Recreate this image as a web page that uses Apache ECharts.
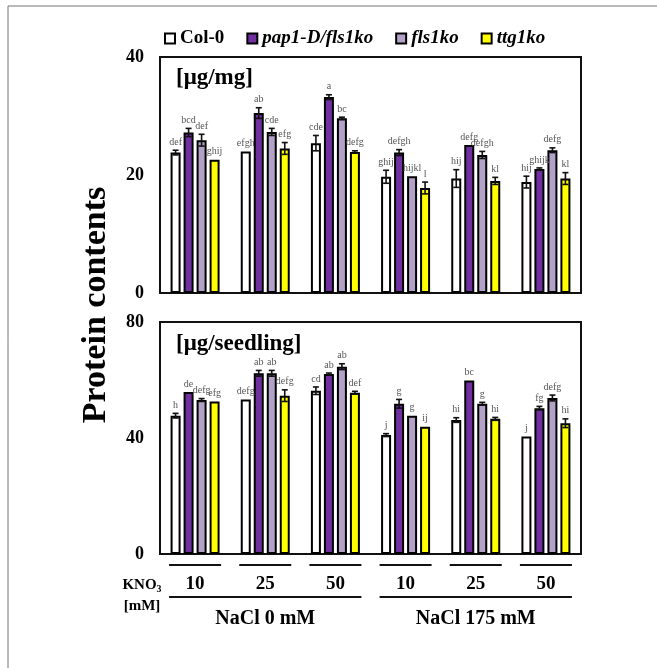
<!DOCTYPE html>
<html>
<head>
<meta charset="utf-8">
<script src="https://cdn.jsdelivr.net/npm/echarts@6/dist/echarts.min.js"></script>
<style>
  html, body { margin: 0; padding: 0; background: #fff; }
  #main { width: 657px; height: 668px; }
</style>
</head>
<body>
<div id="main"></div>
<script>
// KNO3 levels (two NaCl blocks)
var kno3 = ['10', '25', '50', '10', '25', '50'];
var cats = ['a10', 'a25', 'a50', 'b10', 'b25', 'b50'];
var nacl = ['NaCl 0 mM', 'NaCl 175 mM'];
var names = ['Col-0', 'pap1-D/fls1ko', 'fls1ko', 'ttg1ko'];
var colors = ['#ffffff', '#7030a0', '#b3a2c7', '#ffff00'];

// [μg/mg]
var col0T = [23.8, 24.0, 25.4, 19.7, 19.4, 18.8];
var papT  = [27.2, 30.5, 33.2, 23.8, 25.1, 21.0];
var flsT  = [25.9, 27.3, 29.6, 19.8, 23.4, 24.2];
var ttgT  = [22.6, 24.5, 23.9, 17.8, 19.0, 19.4];
var col0TE = [0.4, 0, 1.3, 1.1, 1.5, 1.0];
var papTE  = [0.7, 0.9, 0.4, 0.5, 0, 0.2];
var flsTE  = [1.0, 0.6, 0.2, 0, 0.6, 0.4];
var ttgTE  = [0, 1.0, 0.2, 1.0, 0.6, 1.0];
var col0TL = ['def', 'efgh', 'cde', 'ghij', 'hij', 'hij'];
var papTL  = ['bcd', 'ab', 'a', 'defgh', 'defg', 'ghijk'];
var flsTL  = ['def', 'cde', 'bc', 'hijkl', 'defgh', 'defg'];
var ttgTL  = ['ghij', 'efg', 'defg', 'l', 'kl', 'kl'];

// [μg/seedling]
var col0B = [47.7, 53.3, 56.3, 41.0, 46.2, 40.5];
var papB  = [55.9, 62.3, 62.1, 51.8, 59.8, 50.3];
var flsB  = [53.1, 62.3, 64.6, 47.7, 51.8, 53.8];
var ttgB  = [52.6, 54.6, 55.6, 43.9, 46.6, 45.1];
var col0BE = [0.8, 0, 1.3, 0.5, 0.8, 0];
var papBE  = [0, 1.0, 0.3, 1.5, 0, 0.6];
var flsBE  = [0.5, 1.0, 1.0, 0, 0.5, 1.0];
var ttgBE  = [0, 2.0, 0.5, 0, 0.5, 1.5];
var col0BL = ['h', 'defg', 'cd', 'j', 'hi', 'j'];
var papBL  = ['de', 'ab', 'ab', 'g', 'bc', 'fg'];
var flsBL  = ['defg', 'ab', 'ab', 'g', 'g', 'defg'];
var ttgBL  = ['efg', 'defg', 'def', 'ij', 'hi', 'hi'];

var FONT = '"Liberation Serif", "Times New Roman", serif';
var BAR_W = 10;
var PITCH = 13;

var topVals = [col0T, papT, flsT, ttgT];
var topErrs = [col0TE, papTE, flsTE, ttgTE];
var topLets = [col0TL, papTL, flsTL, ttgTL];
var botVals = [col0B, papB, flsB, ttgB];
var botErrs = [col0BE, papBE, flsBE, ttgBE];
var botLets = [col0BL, papBL, flsBL, ttgBL];

var myChart = echarts.init(document.getElementById('main'));

function errRender(params, api) {
    var cat = api.value(0), v = api.value(1), e = api.value(2), s = api.value(3);
    var letter = api.value(4);
    var dx = (s - 1.5) * PITCH;
    var p = api.coord([cat, v + e]);
    var q = api.coord([cat, v - e]);
    var x = p[0] + dx;
    var kids = [];
    if (e > 0) {
        var st = {stroke: '#111', lineWidth: 1.6};
        kids.push({type: 'line', shape: {x1: x, y1: p[1], x2: x, y2: q[1]}, style: st});
        kids.push({type: 'line', shape: {x1: x - 3, y1: p[1], x2: x + 3, y2: p[1]}, style: st});
        kids.push({type: 'line', shape: {x1: x - 3, y1: q[1], x2: x + 3, y2: q[1]}, style: st});
    }
    kids.push({
        type: 'text',
        style: {
            x: x, y: p[1] - 3, text: letter, fill: '#555',
            font: '10px ' + FONT, align: 'center', verticalAlign: 'bottom'
        }
    });
    return {type: 'group', children: kids};
}

var series = [];
function addGrid(idx, vals, errs, lets) {
    var errData = [];
    for (var s = 0; s < 4; s++) {
        series.push({
            name: names[s],
            type: 'bar',
            xAxisIndex: idx,
            yAxisIndex: idx,
            barWidth: BAR_W,
            barGap: '30%',
            data: vals[s],
            itemStyle: {color: colors[s], borderColor: '#000', borderWidth: 2},
            animation: false
        });
        for (var i = 0; i < 6; i++) {
            errData.push([i, vals[s][i], errs[s][i], s, lets[s][i]]);
        }
    }
    series.push({
        type: 'custom',
        xAxisIndex: idx,
        yAxisIndex: idx,
        renderItem: errRender,
        data: errData,
        z: 10,
        animation: false,
        encode: {x: 0, y: 1}
    });
}
addGrid(0, topVals, topErrs, topLets);
addGrid(1, botVals, botErrs, botLets);

var yLabel = {fontFamily: FONT, fontWeight: 'bold', fontSize: 18, color: '#000', margin: 16};

var option = {
    backgroundColor: '#fff',
    animation: false,
    legend: {
        data: names,
        left: 159,
        top: 24,
        icon: 'rect',
        itemWidth: 10,
        itemHeight: 10,
        itemGap: 22,
        formatter: function (n) {
            return n === 'Col-0' ? '{n|' + n + '}' : '{i|' + n + '}';
        },
        textStyle: {
            fontFamily: FONT, fontSize: 19, fontWeight: 'bold', color: '#000',
            rich: {
                n: {fontFamily: FONT, fontSize: 19, fontWeight: 'bold', color: '#000'},
                i: {fontFamily: FONT, fontSize: 19, fontWeight: 'bold', fontStyle: 'italic', color: '#000'}
            }
        }
    },
    grid: [
        {left: 160, top: 57, width: 421, height: 236, show: true, borderColor: '#111', borderWidth: 2},
        {left: 160, top: 322, width: 421, height: 232, show: true, borderColor: '#111', borderWidth: 2}
    ],
    xAxis: [
        {type: 'category', gridIndex: 0, data: cats, axisTick: {show: false},
         axisLabel: {show: false}, axisLine: {lineStyle: {color: '#111', width: 2}}},
        {type: 'category', gridIndex: 1, data: cats, axisTick: {show: false},
         axisLine: {lineStyle: {color: '#111', width: 2}},
         axisLabel: {
             margin: 21, fontFamily: FONT, fontWeight: 'bold', fontSize: 19, color: '#000',
             formatter: function (v, i) { return kno3[i]; }
         }}
    ],
    yAxis: [
        {type: 'value', gridIndex: 0, min: 0, max: 40, interval: 20, splitLine: {show: false},
         axisLine: {show: false}, axisTick: {show: false}, axisLabel: yLabel},
        {type: 'value', gridIndex: 1, min: 0, max: 80, interval: 40, splitLine: {show: false},
         axisLine: {show: false}, axisTick: {show: false}, axisLabel: yLabel}
    ],
    series: series
};
myChart.setOption(option);

// decorations that follow the category positions
var graphics = [
    {type: 'rect', shape: {x: 8, y: 6, width: 700, height: 700}, silent: true, z: -1,
     style: {fill: 'none', stroke: '#777', lineWidth: 1}},
    {type: 'text', x: 96, y: 305, rotation: Math.PI / 2,
     style: {text: 'Protein contents', font: 'bold 34px ' + FONT, fill: '#000',
             align: 'center', verticalAlign: 'middle'}},
    {type: 'text', x: 176, y: 78,
     style: {text: '[μg/mg]', font: 'bold 23px ' + FONT, fill: '#000', verticalAlign: 'middle'}},
    {type: 'text', x: 176, y: 344,
     style: {text: '[μg/seedling]', font: 'bold 23px ' + FONT, fill: '#000', verticalAlign: 'middle'}},
    {type: 'text', x: 142, y: 585,
     style: {text: '{a|KNO}{b|3}', align: 'center', verticalAlign: 'middle',
             rich: {a: {font: 'bold 15px ' + FONT, fill: '#000'},
                    b: {font: 'bold 10px ' + FONT, fill: '#000', verticalAlign: 'bottom', padding: [8, 0, 0, 0]}}}},
    {type: 'text', x: 142, y: 606,
     style: {text: '[mM]', font: 'bold 15px ' + FONT, fill: '#000', align: 'center', verticalAlign: 'middle'}}
];
var cx = [];
for (var i = 0; i < 6; i++) {
    cx.push(myChart.convertToPixel({xAxisIndex: 1}, i));
    graphics.push({type: 'line', shape: {x1: cx[i] - 26, y1: 565, x2: cx[i] + 26, y2: 565},
                   style: {stroke: '#111', lineWidth: 2}});
}
for (var k = 0; k < 2; k++) {
    var a = cx[k * 3] - 26, b = cx[k * 3 + 2] + 26;
    graphics.push({type: 'line', shape: {x1: a, y1: 597, x2: b, y2: 597},
                   style: {stroke: '#111', lineWidth: 2}});
    graphics.push({type: 'text', x: (a + b) / 2, y: 619,
                   style: {text: nacl[k], font: 'bold 20px ' + FONT, fill: '#000',
                           align: 'center', verticalAlign: 'middle'}});
}
myChart.setOption({graphic: graphics});
</script>
</body>
</html>
